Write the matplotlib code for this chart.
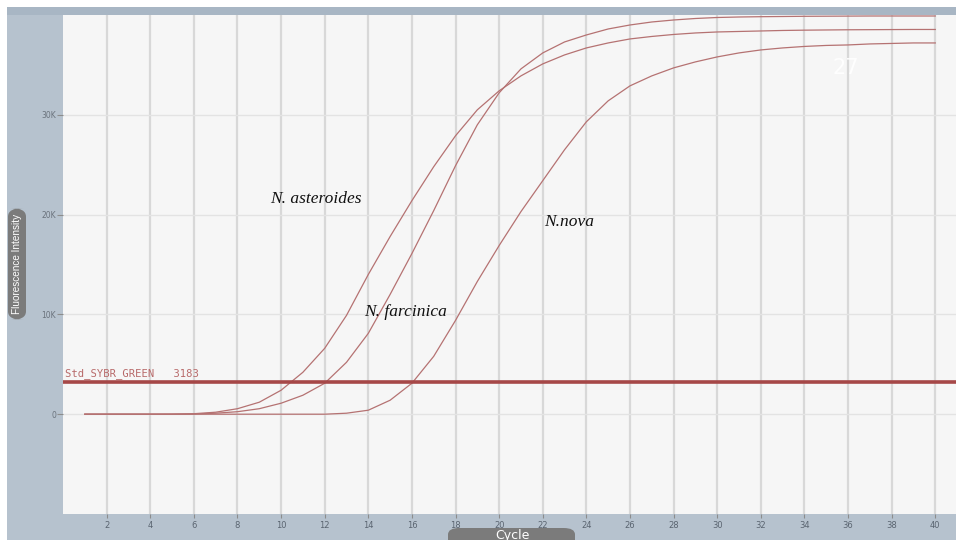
import numpy as np
import matplotlib.pyplot as plt
from matplotlib.patches import Rectangle, FancyBboxPatch

# --- data ---
cycles = list(range(1, 41))

asteroides = [0, 0, 0, 0, 10, 50, 200, 550, 1200, 2400,
              4200, 6600, 9900, 14000, 17800, 21400, 24800, 27900, 30500, 32400,
              33900, 35100, 36000, 36700, 37200, 37600, 37850, 38050, 38200, 38300,
              38350, 38400, 38450, 38480, 38500, 38520, 38530, 38540, 38550, 38550]

farcinica = [0, 0, 0, 0, 0, 20, 100, 250, 550, 1100,
             1900, 3100, 5200, 8100, 12000, 16100, 20400, 24900, 29000, 32200,
             34600, 36200, 37300, 38000, 38600, 39000, 39300, 39500, 39650, 39750,
             39800, 39830, 39850, 39870, 39880, 39890, 39900, 39900, 39900, 39900]

nova = [0, 0, 0, 0, 0, 0, 0, 0, 0, 0,
        0, 0, 100, 400, 1400, 3100, 5800, 9400, 13300, 16900,
        20300, 23400, 26500, 29300, 31400, 32900, 33900, 34700, 35300, 35800,
        36200, 36500, 36700, 36850, 36950, 37000, 37100, 37150, 37200, 37200]

threshold = 3183
threshold_name = "Std_SYBR_GREEN   3183"

x_ticks = list(range(2, 41, 2))
y_ticks = [0, 10000, 20000, 30000]
y_ticklabels = ["0", "10K", "20K", "30K"]

labels = {"N. asteroides": (11.6, 21600), "N. farcinica": (15.7, 10200), "N.nova": (23.2, 19300)}

W, H = 956, 540
fig = plt.figure(figsize=(W / 100, H / 100), dpi=100, facecolor="white")

# --- grey instrument frame ---
fig.patches.append(Rectangle((7 / W, 0), 1, 533 / H, transform=fig.transFigure,
                             facecolor="#b6c2ce", edgecolor="none", zorder=-10))
fig.patches.append(Rectangle((7 / W, 525 / H), 1, 8 / H, transform=fig.transFigure,
                             facecolor="#a8b6c4", edgecolor="none", zorder=-9))

ax = fig.add_axes([63 / W, 26 / H, (W - 63) / W, (514 - 15) / H])
ax.set_facecolor("#f6f6f6")
for s in ax.spines.values():
    s.set_visible(False)

ax.set_xlim(0, 40.95)
ax.set_ylim(-10000, 40000)

ax.set_xticks(x_ticks)
ax.set_xticklabels([str(t) for t in x_ticks])
ax.set_yticks(y_ticks)
ax.set_yticklabels(y_ticklabels)
ax.tick_params(axis="x", length=3, width=0.8, color="#8c8c8c", labelsize=6,
               labelcolor="#5a6470", pad=2)
ax.tick_params(axis="y", length=4, width=0.8, color="#8c8c8c", labelsize=5.5,
               labelcolor="#6a727c", pad=1)

ax.grid(axis="x", color="#d8d8d8", linewidth=1.6)
ax.grid(axis="y", color="#e3e3e3", linewidth=1.0)
ax.set_axisbelow(True)

# --- curves ---
for series in (asteroides, farcinica, nova):
    ax.plot(cycles, series, color="#b57272", linewidth=0.9, zorder=3)

ax.axhline(threshold, color="#a64848", linewidth=2.6, zorder=4)
ax.text(0.1, threshold + 350, threshold_name, fontsize=7.6, family="DejaVu Sans Mono",
        color="#b86a6a", ha="left", va="bottom", zorder=5)

for name, (x, y) in labels.items():
    ax.text(x, y, name, fontsize=12.5, family="Liberation Serif", style="italic",
            color="#111111", ha="center", va="center", zorder=5)

ax.text(35.9, 34700, "27", fontsize=15, color="white", alpha=0.9,
        ha="center", va="center", zorder=5)

# --- axis title pills ---
fig.patches.append(FancyBboxPatch((448 / W, -8 / H), 127 / W, 20 / H,
                                  boxstyle="round,pad=0,rounding_size=0.012",
                                  transform=fig.transFigure, facecolor="#7b7b7b",
                                  edgecolor="none", zorder=5))
fig.text(512 / W, 5 / H, "Cycle", color="white", fontsize=9, ha="center", va="center",
         zorder=6)

fig.patches.append(FancyBboxPatch((8 / W, (540 - 320) / H), 18 / W, 112 / H,
                                  boxstyle="round,pad=0,rounding_size=0.016",
                                  transform=fig.transFigure, facecolor="#7b7b7b",
                                  edgecolor="none", zorder=5))
fig.text(17 / W, (540 - 264) / H, "Fluorescence Intensity", color="white", fontsize=7.2,
         family="Liberation Sans", rotation=90, ha="center", va="center", zorder=6)

fig.savefig("out.png", dpi=100)
